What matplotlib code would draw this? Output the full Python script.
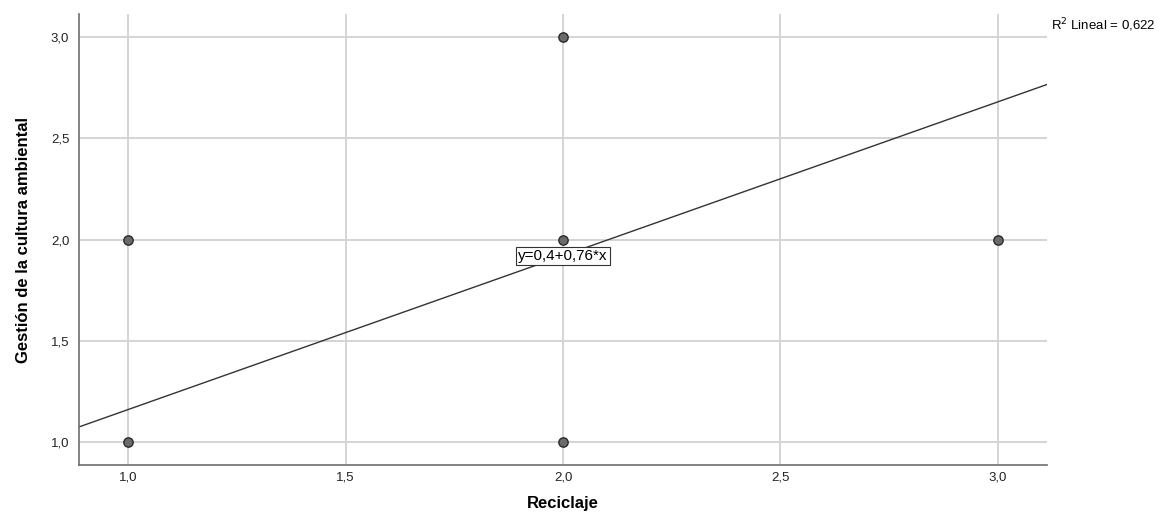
import matplotlib
matplotlib.use("Agg")
import matplotlib.pyplot as plt
import numpy as np

plt.rcParams['font.family'] = ['Liberation Sans', 'DejaVu Sans']

# observed points (Reciclaje, Gestión de la cultura ambiental)
reciclaje = [1, 1, 2, 2, 2, 3]
gestion = [1, 2, 1, 2, 3, 2]

# fitted line from the chart
intercept = 0.4
slope = 0.76
r2 = 0.622

ticks = [1.0, 1.5, 2.0, 2.5, 3.0]
tick_labels = ["1,0", "1,5", "2,0", "2,5", "3,0"]

fig = plt.figure(figsize=(11.64, 5.17), dpi=100)
ax = fig.add_axes([0.0679, 0.1006, 0.8316, 0.8723])

xlim = (0.887, 3.113)
ylim = (0.886, 3.114)
ax.set_xlim(xlim)
ax.set_ylim(ylim)

ax.set_xticks(ticks)
ax.set_xticklabels(tick_labels)
ax.set_yticks(ticks)
ax.set_yticklabels(tick_labels)
ax.tick_params(length=0, labelsize=9.5, colors='#222222')
ax.tick_params(axis='x', pad=5)
ax.tick_params(axis='y', pad=7)

ax.grid(True, color='#d4d4d4', linewidth=1.4)
ax.set_axisbelow(True)
for side in ['top', 'right']:
    ax.spines[side].set_visible(False)
for side in ['left', 'bottom']:
    ax.spines[side].set_color('#6e6e6e')
    ax.spines[side].set_linewidth(1.2)

xs = np.array(xlim)
ax.plot(xs, intercept + slope * xs, color='#333333', linewidth=1.0, zorder=2)

ax.scatter(reciclaje, gestion, s=45, facecolor='#6a6a6a', edgecolor='#2a2a2a',
           linewidth=1.0, zorder=3)

ax.text(2.0, 1.918, "y=0,4+0,76*x", ha='center', va='center', fontsize=11,
        bbox=dict(boxstyle='square,pad=0.15', facecolor='white', edgecolor='#333333',
                  linewidth=0.8), zorder=4)

fig.text(0.903, 0.952, "R$^2$ Lineal = " + f"{r2:.3f}".replace('.', ','),
         fontsize=9.5, ha='left', va='center')

ax.set_xlabel("Reciclaje", fontsize=12, fontweight='bold', labelpad=9)
ax.set_ylabel("Gestión de la cultura ambiental", fontsize=12, fontweight='bold',
              labelpad=14)

fig.savefig("out.png", dpi=100)
